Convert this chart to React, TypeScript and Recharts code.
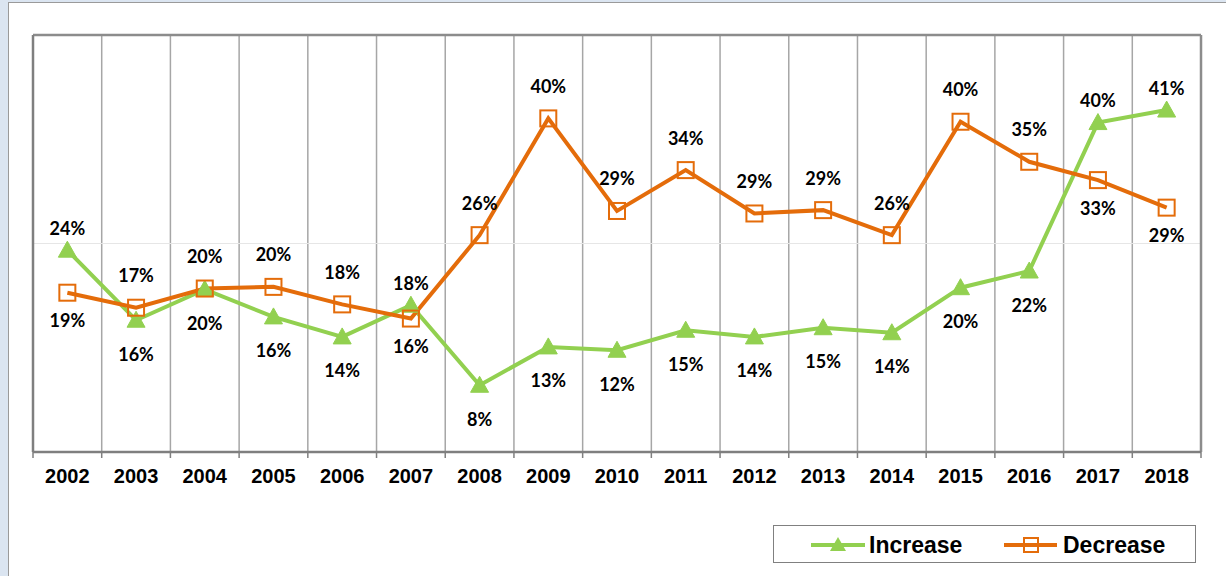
import React from 'react';
import { LineChart, Line, XAxis, YAxis, ReferenceLine } from 'recharts';

const years = ['2002', '2003', '2004', '2005', '2006', '2007', '2008', '2009', '2010', '2011', '2012', '2013', '2014', '2015', '2016', '2017', '2018'];
const increase = [24.2, 15.8, 19.5, 16.2, 13.8, 17.6, 8.0, 12.6, 12.2, 14.6, 13.8, 14.9, 14.3, 19.7, 21.7, 39.5, 41.0];
const decrease = [19.1, 17.3, 19.6, 19.8, 17.7, 16.0, 26.0, 40.0, 28.9, 33.8, 28.6, 29.0, 26.0, 39.6, 34.8, 32.6, 29.3];

const GREEN = '#92d050';
const ORANGE = '#e46c0a';

const data = years.map((y, i) => ({ idx: i, year: y, inc: increase[i], dec: decrease[i] }));
const centerTicks = years.map((_, i) => i);
const boundaryTicks = [...years.map((_, i) => i - 0.5), years.length - 0.5];
const innerBoundaries = boundaryTicks.slice(1, -1);

const Triangle = (props: any) => {
  const { cx, cy } = props;
  if (cx == null || cy == null) return null;
  return <path d={`M${cx},${cy - 9} L${cx + 9},${cy + 7} L${cx - 9},${cy + 7} Z`} fill={GREEN} stroke={GREEN} strokeWidth={1} />;
};

const Square = (props: any) => {
  const { cx, cy } = props;
  if (cx == null || cy == null) return null;
  return <rect x={cx - 8} y={cy - 8} width={16} height={16} fill="none" stroke={ORANGE} strokeWidth={2} />;
};

const makeLabel = (series: 'inc' | 'dec') => (props: any) => {
  const { x, y, index, value } = props;
  if (x == null || y == null) return null;
  const a = increase[index];
  const b = decrease[index];
  const above = series === 'inc' ? a > b : b >= a;
  const off = above ? (series === 'inc' ? 22 : 32) : (series === 'inc' ? 34 : 28);
  const cyText = above ? y - off : y + off;
  return (
    <text x={x} y={cyText + 6.5} textAnchor="middle" fontFamily="Lato, 'Open Sans', sans-serif" fontWeight={700} fontSize={18} fill="#000">
      {Math.round(value)}%
    </text>
  );
};

const EmptyTick = () => <g />;

const LegendBox = () => (
  <div style={{ position: 'absolute', left: 773, top: 525, width: 423, height: 38, border: '1px solid #808080', background: '#fff', boxSizing: 'border-box' }}>
    <svg width={421} height={36} style={{ position: 'absolute', left: 0, top: 0 }}>
      <line x1={37} y1={19} x2={91} y2={19} stroke={GREEN} strokeWidth={4} />
      <path d="M64,11 L72,25 L56,25 Z" fill={GREEN} />
      <line x1={230} y1={19} x2={283} y2={19} stroke={ORANGE} strokeWidth={4} />
      <rect x={250} y={12} width={14} height={14} fill="none" stroke={ORANGE} strokeWidth={2} />
      <text x={95} y={27} fontFamily="'Liberation Sans', Arial, sans-serif" fontWeight={700} fontSize={23} fill="#000">Increase</text>
      <text x={289} y={27} fontFamily="'Liberation Sans', Arial, sans-serif" fontWeight={700} fontSize={23} fill="#000">Decrease</text>
    </svg>
  </div>
);

export default function App() {
  return (
    <div style={{ position: 'fixed', left: 0, top: 0, width: 1226, height: 576, background: '#dbe5f1', overflow: 'hidden' }}>
      <div style={{ position: 'absolute', left: 8, top: 2, width: 1260, height: 620, background: '#fff', borderLeft: '1px solid #9a9a9a', borderTop: '1px solid #9a9a9a' }} />
      <div style={{ position: 'absolute', left: 0, top: 0 }}>
        <LineChart width={1226} height={576} data={data} margin={{ top: 35, right: 25, left: 33, bottom: 94 }}>
          <XAxis xAxisId="grid" type="number" dataKey="idx" domain={[-0.5, 16.5]} ticks={boundaryTicks} tick={<EmptyTick />} height={1} tickSize={6} tickLine={{ stroke: '#7f7f7f', strokeWidth: 1.5 }} axisLine={{ stroke: '#7f7f7f', strokeWidth: 2.5 }} allowDecimals interval={0} />
          <XAxis xAxisId="main" type="number" dataKey="idx" domain={[-0.5, 16.5]} ticks={centerTicks} interval={0} tickFormatter={(v: number) => years[v]} height={29} tickLine={false} tickSize={6} tickMargin={10} axisLine={false} tick={{ fontFamily: "'Liberation Sans', Arial, sans-serif", fontWeight: 700, fontSize: 20, fill: '#000' }} />
          <YAxis type="number" domain={[0, 50]} ticks={[0, 25, 50]} hide width={0} />
          {innerBoundaries.map((b) => (
            <ReferenceLine key={b} xAxisId="main" x={b} stroke="#a6a6a6" strokeWidth={1.5} />
          ))}
          <ReferenceLine xAxisId="main" y={25} stroke="#e6e6e6" strokeWidth={1} />
          <ReferenceLine xAxisId="main" y={50} stroke="#8c8c8c" strokeWidth={2.5} />
          <ReferenceLine xAxisId="main" x={-0.5} stroke="#7f7f7f" strokeWidth={2.5} />
          <ReferenceLine xAxisId="main" x={16.5} stroke="#8c8c8c" strokeWidth={2.5} />
          <Line xAxisId="main" type="linear" dataKey="inc" stroke={GREEN} strokeWidth={4} dot={<Triangle />} activeDot={false} isAnimationActive={false} label={makeLabel('inc')} />
          <Line xAxisId="main" type="linear" dataKey="dec" stroke={ORANGE} strokeWidth={4} dot={<Square />} activeDot={false} isAnimationActive={false} label={makeLabel('dec')} />
        </LineChart>
      </div>
      <LegendBox />
    </div>
  );
}
